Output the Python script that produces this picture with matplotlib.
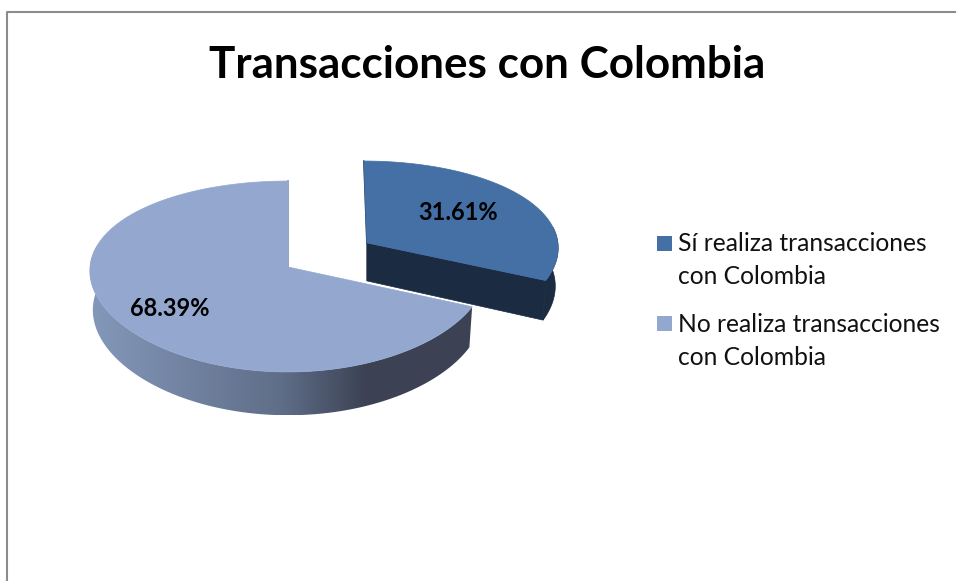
# coding: utf-8

import numpy as np
from matplotlib import pyplot as plt
from matplotlib.patches import Polygon, Rectangle
from matplotlib.colors import LinearSegmentedColormap

titulo = 'Transacciones con Colombia'
categorias = ['Sí realiza transacciones\ncon Colombia',
              'No realiza transacciones\ncon Colombia']
valores = [31.61, 68.39]
etiquetas = ['31.61%', '68.39%']
explosion = [0.48, 0.0]

# colores
c_top = ['#4470A6', '#94A8CF']
c_wall = '#1A2B42'
c_borde = '#8C8C8C'

# geometria de la torta en pixeles
CX, CY = 288, 267
RX, RY = 198, 94.5
KX, KY = 0.04, 0.0995
DEPTH = 39
ancho = [0.975, 1.0]


def proyectar(u, v, bajar=0.0):
    """Pasa del disco unitario a pixeles, con algo de perspectiva"""
    s = 1 + KY * v
    x = CX + RX * u / (1 + KX * v)
    y = CY - RY * v / s + bajar / s
    return x, y


def sector(t0, t1, off, w=1.0):
    t = np.radians(np.linspace(t0, t1, 200))
    return w * np.sin(t) + off[0], np.cos(t) + off[1]


def pared(ax, t0, t1, off, w=1.0, z=2, color=None, cmap=None):
    """Pared exterior entre los angulos t0 y t1 del arco"""
    t = np.radians(np.linspace(t0, t1, 200))
    u, v = sector(t0, t1, off, w)
    x0, y0 = proyectar(u, v)
    x1, y1 = proyectar(off[0] + 0.985 * w * np.sin(t), v, DEPTH)
    pts = np.r_[np.c_[x0, y0], np.c_[x1, y1][::-1]]
    if cmap is None:
        ax.add_patch(Polygon(pts, closed=True, fc=color, ec=color, lw=0.5, zorder=z))
    else:
        pol = Polygon(pts, closed=True, fc='none', ec='none')
        ax.add_patch(pol)
        grad = np.linspace(0, 1, 256).reshape(1, -1)
        im = ax.imshow(grad, cmap=cmap, aspect='auto', zorder=z,
                       extent=(pts[:, 0].min(), pts[:, 0].max(),
                               pts[:, 1].max(), pts[:, 1].min()))
        im.set_clip_path(pol)
    return x1, y1


fig = plt.figure(figsize=(9.56, 5.81), dpi=100)
ax = fig.add_axes([0, 0, 1, 1])
ax.axis('off')

# marco (solo arriba e izquierda en la captura)
ax.plot([7, 7, 956], [581, 12, 12], color=c_borde, lw=1.5, zorder=1)

cmap_lado = LinearSegmentedColormap.from_list(
    'lado', [(0, '#8498BA'), (0.5, '#5F6E88'), (0.72, '#3C4254'), (1, '#3C4254')])

total = sum(valores)
angulos = np.cumsum([0] + [v / total * 360 for v in valores])

# primero la porcion grande, la separada va encima
for i in [1, 0]:
    t0, t1 = angulos[i], angulos[i + 1]
    med = np.radians((t0 + t1) / 2)
    off = (explosion[i] * np.sin(med), explosion[i] * np.cos(med))
    z = 3 + i

    if i == 0:
        # pared exterior y cara de corte delantera
        bx, by = pared(ax, 80, t1, off, ancho[i], z=z, color=c_wall)
        ax_x, ax_y = proyectar(np.array([off[0], off[0] + ancho[i] * np.sin(np.radians(t1))]),
                               np.array([off[1], off[1] + np.cos(np.radians(t1))]))
        cx, cy = proyectar(off[0], off[1], DEPTH)
        ax.add_patch(Polygon(np.c_[[ax_x[0], ax_x[1], bx[-1], cx],
                                   [ax_y[0], ax_y[1], by[-1], cy]],
                             closed=True, fc=c_wall, ec=c_wall, lw=0.5, zorder=z))
    else:
        pared(ax, t0, 283, off, ancho[i], z=z - 1, cmap=cmap_lado)

    u, v = sector(t0, t1, off, ancho[i])
    x, y = proyectar(np.r_[off[0], u], np.r_[off[1], v])
    ax.add_patch(Polygon(np.c_[x, y], closed=True, fc=c_top[i], ec=c_top[i],
                         lw=0.5, zorder=z + 0.5))
    if i == 0:
        # borde oscuro del corte trasero
        ax.plot(x[:2], y[:2], color=c_wall, lw=1.0, zorder=z + 0.4)
    else:
        ax.plot(x[[0, -1]], y[[0, -1]], color='#8090AE', lw=1.2, zorder=z + 0.4)

ax.text(458, 213, etiquetas[0], fontsize=17, fontweight='bold', family='Lato',
        ha='center', va='center', color='black', zorder=8)
ax.text(170, 308, etiquetas[1], fontsize=17, fontweight='bold', family='Lato',
        ha='center', va='center', color='black', zorder=8)

ax.text(487, 65, titulo, fontsize=31.7, fontweight='bold', family='Lato',
        ha='center', va='center', color='black')

# leyenda
for i, (nombre, y) in enumerate(zip(categorias, [260, 341])):
    ax.add_patch(Rectangle((657, y - 24 - i), 15, 15, fc=c_top[i], ec='none'))
    ax.text(678, y, nombre, fontsize=17.7, family='Lato', ha='left', va='center',
            linespacing=1.48, color='#111111')

ax.set_xlim(0, 956)
ax.set_ylim(581, 0)

fig.savefig('out.png', dpi=100)
plt.close()
